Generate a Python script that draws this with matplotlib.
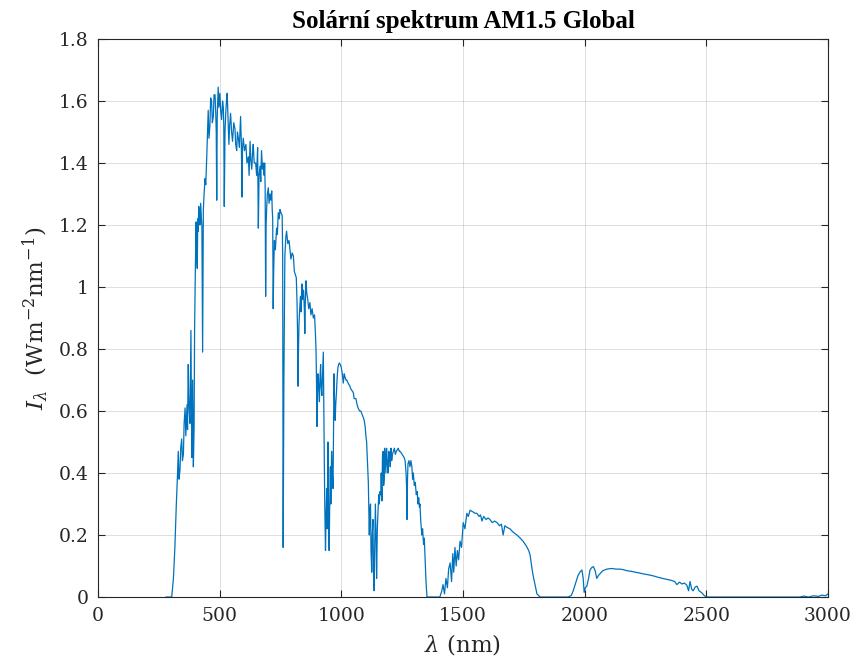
import numpy as np
import matplotlib
matplotlib.use("Agg")
import matplotlib.pyplot as plt

# AM1.5 Global spectrum, split by band.
# wavelength in nm, irradiance in W m^-2 nm^-1

# UV + visible (280-760 nm)
vis_wl = [
    280, 295, 303, 310, 316, 322, 327, 330, 333, 337, 340, 344, 347, 351, 354,
    358, 361, 364, 366, 368, 371, 373, 375, 378, 380, 382, 384, 386, 389, 392,
    395, 397, 400, 403, 406, 408, 410, 412, 414, 416, 419, 422, 425, 427, 430,
    433, 436, 440, 443, 447, 450, 453, 456, 460, 463, 467, 470, 474, 477, 481,
    484, 486, 488, 490, 494, 497, 501, 504, 508, 512, 515, 517, 519, 522, 525,
    528, 531, 534, 538, 541, 545, 549, 553, 558, 563, 566, 570, 573, 577, 581,
    586, 589, 592, 594, 597, 602, 608, 612, 618, 621, 625, 628, 632, 635, 638,
    642, 648, 652, 656, 659, 662, 666, 669, 672, 676, 680, 683, 685, 687, 689,
    691, 693, 696, 700, 703, 707, 710, 714, 716, 718, 720, 722, 725, 729, 734,
    737, 741, 745, 748, 752, 757, 759,
]
vis_val = [
    0.0, 0.0, 0.0, 0.06, 0.16, 0.30, 0.40, 0.47, 0.38, 0.41, 0.48, 0.51, 0.44,
    0.46, 0.56, 0.61, 0.52, 0.58, 0.62, 0.54, 0.75, 0.65, 0.60, 0.56, 0.72,
    0.86, 0.60, 0.45, 0.70, 0.42, 0.55, 0.86, 1.05, 1.21, 1.10, 1.06, 1.22,
    1.18, 1.26, 1.24, 1.20, 1.27, 1.22, 1.20, 0.79, 1.25, 1.30, 1.35, 1.33,
    1.42, 1.50, 1.57, 1.48, 1.52, 1.61, 1.60, 1.53, 1.55, 1.62, 1.62, 1.56,
    1.50, 1.28, 1.55, 1.645, 1.58, 1.625, 1.57, 1.54, 1.60, 1.58, 1.52, 1.26,
    1.50, 1.56, 1.60, 1.625, 1.55, 1.46, 1.52, 1.56, 1.50, 1.47, 1.53, 1.51,
    1.46, 1.44, 1.50, 1.48, 1.45, 1.55, 1.47, 1.29, 1.45, 1.48, 1.44, 1.46,
    1.40, 1.42, 1.36, 1.47, 1.41, 1.38, 1.43, 1.46, 1.40, 1.40, 1.36, 1.45,
    1.19, 1.36, 1.39, 1.34, 1.44, 1.38, 1.40, 1.36, 1.40, 1.32, 0.97, 1.20,
    1.25, 1.30, 1.32, 1.27, 1.30, 1.28, 1.31, 1.25, 1.22, 0.93, 1.05, 1.15,
    1.12, 1.19, 1.17, 1.24, 1.22, 1.25, 1.24, 1.23, 1.10,
]

# near infrared (760-1360 nm)
nir_wl = [
    761, 764, 768, 772, 775, 780, 785, 789, 793, 798, 803, 807, 811, 815, 818,
    820, 822, 824, 826, 829, 832, 835, 838, 841, 845, 848, 850, 852, 855, 858,
    862, 866, 871, 875, 880, 885, 890, 893, 896, 898, 900, 902, 904, 907, 910,
    912, 915, 917, 920, 923, 926, 928, 930, 932, 935, 937, 940, 942, 945, 947,
    950, 952, 955, 957, 960, 963, 966, 968, 970, 972, 975, 977, 980, 983, 986,
    989, 992, 996, 1000, 1004, 1008, 1012, 1015, 1019, 1022, 1028, 1035, 1040,
    1049, 1053, 1060, 1065, 1069, 1075, 1080, 1085, 1090, 1094, 1098, 1101,
    1104, 1108, 1111, 1113, 1115, 1117, 1120, 1122, 1125, 1127, 1130, 1132,
    1135, 1137, 1140, 1143, 1145, 1148, 1151, 1154, 1156, 1159, 1162, 1164,
    1167, 1169, 1172, 1174, 1176, 1178, 1180, 1183, 1186, 1189, 1192, 1195,
    1198, 1201, 1204, 1207, 1210, 1214, 1218, 1222, 1226, 1230, 1234, 1238,
    1241, 1246, 1250, 1254, 1258, 1262, 1266, 1268, 1270, 1272, 1274, 1278,
    1282, 1286, 1290, 1293, 1296, 1300, 1304, 1308, 1312, 1315, 1318, 1321,
    1323, 1327, 1331, 1334, 1338, 1341, 1344, 1348, 1352,
]
nir_val = [
    0.16, 0.70, 1.10, 1.16, 1.18, 1.14, 1.15, 1.12, 1.09, 1.11, 1.10, 1.05,
    1.04, 1.03, 0.95, 0.86, 0.68, 0.80, 0.88, 0.93, 0.97, 0.92, 1.01, 0.96,
    0.99, 0.93, 0.85, 0.95, 1.02, 0.98, 0.96, 0.93, 0.95, 0.91, 0.93, 0.90,
    0.91, 0.86, 0.80, 0.70, 0.55, 0.66, 0.72, 0.68, 0.63, 0.70, 0.75, 0.68,
    0.65, 0.72, 0.79, 0.60, 0.45, 0.30, 0.15, 0.25, 0.35, 0.22, 0.50, 0.30,
    0.15, 0.28, 0.42, 0.30, 0.47, 0.40, 0.35, 0.55, 0.72, 0.64, 0.57, 0.62,
    0.66, 0.71, 0.74, 0.75, 0.755, 0.75, 0.74, 0.72, 0.69, 0.72, 0.71, 0.70,
    0.70, 0.69, 0.68, 0.67, 0.66, 0.64, 0.64, 0.62, 0.61, 0.60, 0.60, 0.59,
    0.58, 0.57, 0.55, 0.52, 0.50, 0.43, 0.37, 0.28, 0.20, 0.28, 0.30, 0.15,
    0.08, 0.20, 0.25, 0.10, 0.02, 0.15, 0.30, 0.18, 0.06, 0.22, 0.28, 0.33,
    0.30, 0.34, 0.33, 0.40, 0.31, 0.45, 0.47, 0.36, 0.38, 0.48, 0.46, 0.40,
    0.48, 0.43, 0.40, 0.47, 0.46, 0.42, 0.48, 0.44, 0.46, 0.47, 0.48, 0.46,
    0.47, 0.475, 0.48, 0.47, 0.47, 0.465, 0.46, 0.455, 0.45, 0.44, 0.40, 0.36,
    0.25, 0.38, 0.43, 0.44, 0.42, 0.44, 0.42, 0.38, 0.40, 0.36, 0.37, 0.33,
    0.34, 0.30, 0.32, 0.29, 0.30, 0.24, 0.20, 0.22, 0.17, 0.19, 0.13, 0.05,
    0.0,
]

# short-wave infrared (1400-3000 nm)
swir_wl = [
    1405, 1413, 1418, 1424, 1430, 1436, 1441, 1447, 1453, 1458, 1462, 1467,
    1472, 1477, 1482, 1488, 1494, 1501, 1508, 1516, 1522, 1529, 1540, 1550,
    1557, 1566, 1572, 1578, 1585, 1595, 1603, 1611, 1620, 1630, 1640, 1650,
    1658, 1665, 1672, 1680, 1693, 1705, 1713, 1722, 1735, 1747, 1760, 1770,
    1776, 1782, 1788, 1796, 1804, 1817, 1932, 1945, 1953, 1963, 1973, 1982,
    1989, 1994, 1998, 2003, 2009, 2016, 2022, 2029, 2036, 2043, 2050, 2057,
    2063, 2075, 2091, 2110, 2130, 2146, 2160, 2173, 2190, 2210, 2228, 2245,
    2260, 2283, 2300, 2320, 2338, 2355, 2370, 2379, 2390, 2400, 2410, 2420,
    2427, 2433, 2440, 2446, 2454, 2462, 2470, 2481, 2490, 2500, 2885, 2900,
    2920, 2940, 2960, 2975, 2990, 3000,
]
swir_val = [
    0.0, 0.02, 0.04, 0.01, 0.06, 0.03, 0.09, 0.11, 0.05, 0.14, 0.08, 0.16,
    0.10, 0.15, 0.12, 0.18, 0.16, 0.24, 0.22, 0.27, 0.26, 0.28, 0.275, 0.27,
    0.27, 0.26, 0.265, 0.245, 0.26, 0.25, 0.255, 0.25, 0.24, 0.245, 0.24,
    0.23, 0.235, 0.20, 0.23, 0.225, 0.22, 0.21, 0.205, 0.20, 0.19, 0.18, 0.165,
    0.15, 0.135, 0.10, 0.07, 0.04, 0.01, 0.0, 0.0, 0.005, 0.02, 0.045, 0.07,
    0.082, 0.087, 0.06, 0.015, 0.03, 0.035, 0.06, 0.087, 0.095, 0.098, 0.085,
    0.06, 0.07, 0.075, 0.085, 0.09, 0.092, 0.09, 0.09, 0.088, 0.085, 0.083,
    0.08, 0.077, 0.074, 0.072, 0.068, 0.064, 0.06, 0.057, 0.054, 0.05, 0.04,
    0.048, 0.042, 0.045, 0.038, 0.02, 0.05, 0.025, 0.02, 0.032, 0.035, 0.02,
    0.014, 0.006, 0.0, 0.0, 0.003, 0.0, 0.004, 0.002, 0.006, 0.004, 0.01,
]

wavelength = np.array(vis_wl + nir_wl + swir_wl, dtype=float)
irradiance = np.array(vis_val + nir_val + swir_val, dtype=float)
assert wavelength.size == irradiance.size

plt.rcParams['font.family'] = ['DejaVu Serif']
plt.rcParams['mathtext.fontset'] = 'dejavuserif'

fig = plt.figure(figsize=(8.55, 6.61), dpi=100)
ax = fig.add_axes([0.1146, 0.0968, 0.8538, 0.8442])

ax.plot(wavelength, irradiance, color='#0072BD', linewidth=0.9)

ax.set_xlim(0, 3000)
ax.set_ylim(0, 1.8)
ax.set_xticks(np.arange(0, 3001, 500))
ax.set_yticks(np.arange(0, 1.81, 0.2))
ax.set_yticklabels(['0', '0.2', '0.4', '0.6', '0.8', '1', '1.2', '1.4', '1.6', '1.8'])

ax.grid(True, color='#262626', alpha=0.15, linewidth=0.7)
ax.tick_params(direction='in', top=True, right=True, length=5, width=0.8,
               labelsize=13.5, colors='#262626', pad=7)
for s in ax.spines.values():
    s.set_color('#262626')
    s.set_linewidth(0.8)

ax.set_xlabel(r'$\lambda$ (nm)', fontsize=16.5, color='#262626', labelpad=5)
ax.set_ylabel(r'$I_\lambda$  (Wm$^{-2}$nm$^{-1}$)', fontsize=16.5, color='#262626', labelpad=6)
ax.set_title('Solární spektrum AM1.5 Global', fontsize=18, fontweight='bold',
             family='Liberation Serif', color='black', pad=8)

fig.savefig('out.png', dpi=100)
